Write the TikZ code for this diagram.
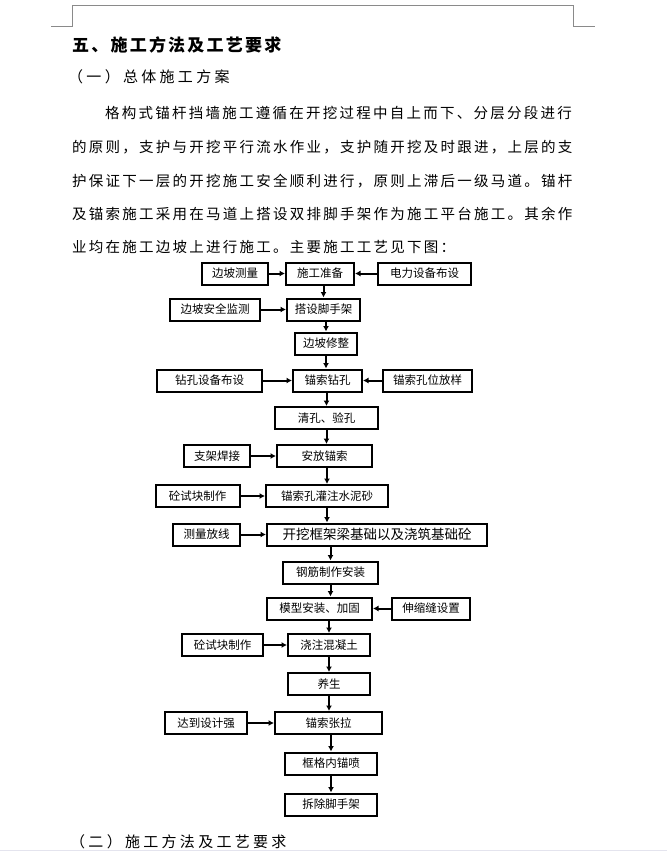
\documentclass[tikz,border=0pt]{standalone}
\usepackage{fontspec}
\setmainfont{Noto Sans CJK SC}
\newfontfamily\boxfont{Noto Sans CJK SC}
\newfontfamily\bodyfont{Noto Sans CJK SC}[LetterSpace=15.5]
\newfontfamily\headfont{Noto Sans CJK SC}[LetterSpace=22]
\newfontfamily\titlefont{Noto Sans CJK SC}[LetterSpace=13]
\usetikzlibrary{arrows.meta,positioning}
\definecolor{cropgray}{HTML}{8A8A8A}
\definecolor{edgegray}{HTML}{E4E4EE}

\begin{document}
\begin{tikzpicture}[x=1pt,y=-1pt,
  box/.style={draw,line width=2pt,minimum height=22pt,inner sep=0pt,font=\boxfont\fontsize{11.5}{13}\selectfont},
  a/.style={-{Latex[length=5.5pt,width=6pt]},line width=2pt},
  para/.style={anchor=west,inner sep=0pt,font=\bodyfont\fontsize{14.5}{16}\selectfont},
  crop/.style={draw=cropgray,line width=0.8pt}]
\useasboundingbox (0,0) rectangle (667,852);
\draw[crop] (51,26) -- (72,26) -- (72,5) -- (573,5) -- (573,26) -- (595,26);
\draw[draw=edgegray,line width=1.2pt] (0,850.5) -- (667,850.5);
\node[anchor=west,inner sep=0pt,font=\titlefont\bfseries\fontsize{17}{19}\selectfont] (title) at (72,45) {五、施工方法及工艺要求};
\node[anchor=west,inner sep=0pt,font=\headfont\fontsize{15}{17}\selectfont] (sec1) at (68,77) {（一）总体施工方案};
\node[para] (l1) at (105,113) {格构式锚杆挡墙施工遵循在开挖过程中自上而下、分层分段进行};
\node[para] (l2) at (72,147) {的原则，支护与开挖平行流水作业，支护随开挖及时跟进，上层的支};
\node[para] (l3) at (72,181) {护保证下一层的开挖施工安全顺利进行，原则上滞后一级马道。锚杆};
\node[para] (l4) at (72,214) {及锚索施工采用在马道上搭设双排脚手架作为施工平台施工。其余作};
\node[para] (l5) at (72,247) {业均在施工边坡上进行施工。主要施工工艺见下图：};
\node[box,minimum width=68pt] (prep) at (320,273.5) {施工准备};
\node[box,minimum width=66pt] (survey) at (235,273.5) {边坡测量};
\node[box,minimum width=93pt] (power) at (424.5,273.5) {电力设备布设};
\node[box,minimum width=73pt] (scaf) at (323.5,309.5) {搭设脚手架};
\node[box,minimum width=90pt] (monitor) at (215,309.5) {边坡安全监测};
\node[box,minimum width=62pt] (trim) at (326,343.5) {边坡修整};
\node[box,minimum width=69pt] (drill) at (327.5,380.5) {锚索钻孔};
\node[box,minimum width=105pt] (rig) at (209.5,380.5) {钻孔设备布设};
\node[box,minimum width=89pt] (stake) at (427.5,380.5) {锚索孔位放样};
\node[box,minimum width=103pt] (clean) at (326.5,418) {清孔、验孔};
\node[box,minimum width=95pt] (place) at (324.5,456) {安放锚索};
\node[box,minimum width=66pt] (weld) at (217,456) {支架焊接};
\node[box,minimum width=122pt] (grout) at (327,496) {锚索孔灌注水泥砂};
\node[box,minimum width=84pt] (cubea) at (197.5,496) {砼试块制作};
\node[box,minimum width=220pt,font=\boxfont\fontsize{13.5}{15}\selectfont] (found) at (377,534.5) {开挖框架梁基础以及浇筑基础砼};
\node[box,minimum width=67pt] (layout) at (206.5,534.5) {测量放线};
\node[box,minimum width=95pt] (rebar) at (330.5,572.5) {钢筋制作安装};
\node[box,minimum width=105pt] (form) at (319.5,608.5) {模型安装、加固};
\node[box,minimum width=78pt] (joint) at (431,608.5) {伸缩缝设置};
\node[box,minimum width=82pt] (pour) at (329,645) {浇注混凝土};
\node[box,minimum width=81pt] (cubeb) at (222.5,645) {砼试块制作};
\node[box,minimum width=82pt] (cure) at (329,684) {养生};
\node[box,minimum width=107pt] (tens) at (328.5,723) {锚索张拉};
\node[box,minimum width=82pt] (reach) at (206,723) {达到设计强};
\node[box,minimum width=92pt] (spray) at (331,763.5) {框格内锚喷};
\node[box,minimum width=92pt] (remove) at (331,804.5) {拆除脚手架};
\draw[a] (survey) -- (prep); \draw[a] (power) -- (prep); \draw[a] (monitor) -- (scaf);
\draw[a] (rig) -- (drill); \draw[a] (stake) -- (drill); \draw[a] (weld) -- (place);
\draw[a] (cubea) -- (grout); \draw[a] (layout) -- (found); \draw[a] (joint) -- (form);
\draw[a] (cubeb) -- (pour); \draw[a] (reach) -- (tens);
\draw[a] (scaf |- prep.south) -- (scaf); \draw[a] (trim |- scaf.south) -- (trim);
\draw[a] (trim) -- (trim |- drill.north); \draw[a] (clean |- drill.south) -- (clean);
\draw[a] (clean) -- (clean |- place.north); \draw[a] (grout |- place.south) -- (grout);
\draw[a] (grout) -- (grout |- found.north); \draw[a] (rebar |- found.south) -- (rebar);
\draw[a] (rebar) -- (rebar |- form.north); \draw[a] (pour |- form.south) -- (pour);
\draw[a] (pour) -- (cure); \draw[a] (cure) -- (cure |- tens.north);
\draw[a] (spray |- tens.south) -- (spray); \draw[a] (spray) -- (remove);
\node[anchor=west,inner sep=0pt,font=\headfont\fontsize{15}{17}\selectfont] (sec2) at (70,842) {（二）施工方法及工艺要求};
\end{tikzpicture}
\end{document}
